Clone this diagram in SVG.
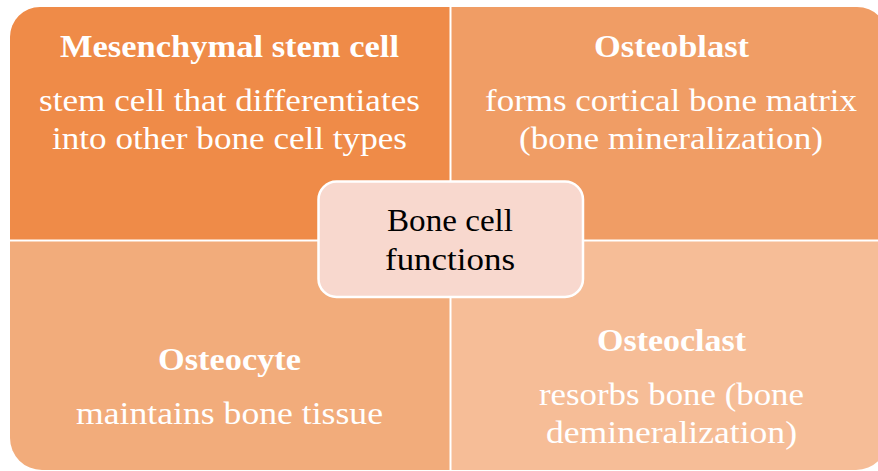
<svg xmlns="http://www.w3.org/2000/svg" width="878" height="471" viewBox="0 0 878 471">
<style>
text{font-family:"Liberation Serif","Times New Roman",serif;text-anchor:middle;}
.t{font-size:31px;font-weight:bold;fill:#ffffff;}
.d{font-size:31px;fill:#ffffff;}
.c{font-size:31px;fill:#000000;}
</style>
<rect width="878" height="471" fill="#ffffff"/>
<g id="mesenchymal">
<path d="M10,37 A30,30 0 0 1 40,7 H449.5 V239.5 H10 Z" fill="#EF8B48"/>
<text class="t" x="229.5" y="57" textLength="339" lengthAdjust="spacingAndGlyphs">Mesenchymal stem cell</text>
<text class="d" x="229.5" y="111" textLength="381" lengthAdjust="spacingAndGlyphs">stem cell that differentiates</text>
<text class="d" x="229.5" y="149" textLength="355" lengthAdjust="spacingAndGlyphs">into other bone cell types</text>
</g>
<g id="osteoblast">
<path d="M451.5,7 H857 A31,31 0 0 1 888,38 V239.5 H451.5 Z" fill="#F09D65"/>
<text class="t" x="671.5" y="57" textLength="155" lengthAdjust="spacingAndGlyphs">Osteoblast</text>
<text class="d" x="671" y="111" textLength="372" lengthAdjust="spacingAndGlyphs">forms cortical bone matrix</text>
<text class="d" x="671" y="149" textLength="304" lengthAdjust="spacingAndGlyphs">(bone mineralization)</text>
</g>
<g id="osteocyte">
<path d="M10,241.5 H449.5 V470 H42 A32,32 0 0 1 10,438 Z" fill="#F2AC7B"/>
<text class="t" x="229.5" y="370" textLength="143" lengthAdjust="spacingAndGlyphs">Osteocyte</text>
<text class="d" x="229.5" y="424" textLength="307" lengthAdjust="spacingAndGlyphs">maintains bone tissue</text>
</g>
<g id="osteoclast">
<path d="M451.5,241.5 H888 V438 A32,32 0 0 1 856,470 H451.5 Z" fill="#F6BD97"/>
<text class="t" x="671.5" y="351" textLength="149" lengthAdjust="spacingAndGlyphs">Osteoclast</text>
<text class="d" x="671.5" y="405" textLength="265" lengthAdjust="spacingAndGlyphs">resorbs bone (bone</text>
<text class="d" x="671.5" y="443" textLength="251" lengthAdjust="spacingAndGlyphs">demineralization)</text>
</g>
<g id="center">
<rect x="318.5" y="181.5" width="264.5" height="115.5" rx="18" fill="#F8D8CE" stroke="#ffffff" stroke-width="2.5"/>
<text class="c" x="450" y="231" textLength="126" lengthAdjust="spacingAndGlyphs">Bone cell</text>
<text class="c" x="450" y="270" textLength="130" lengthAdjust="spacingAndGlyphs">functions</text>
</g>
</svg>
